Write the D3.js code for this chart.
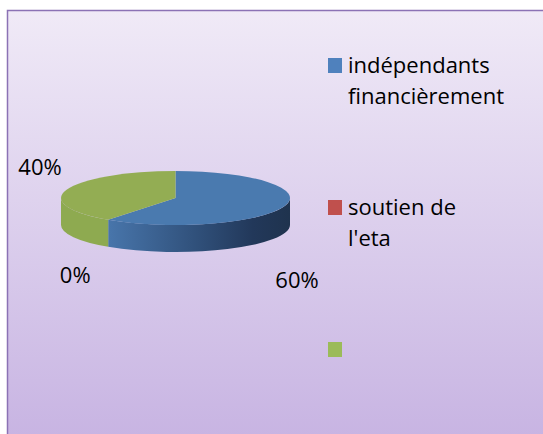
<!doctype html>
<html lang="fr">
<head>
<meta charset="utf-8">
<title>Pie 3D</title>
<script src="https://cdn.jsdelivr.net/npm/d3@7"></script>
<style>
  html, body { margin: 0; padding: 0; background: #fff; }
  svg { display: block; }
  text { font-family: "Open Sans", "Noto Sans", sans-serif; fill: #000; }
</style>
</head>
<body>
<svg id="chart" width="543" height="434"></svg>
<script>
// data
const categories = ["indépendants financièrement", "soutien de l'eta", ""];
const values = [60, 0, 40];
const legendLines = [["indépendants", "financièrement"], ["soutien de", "l'eta"], [""]];
const topColors = ["#4a7aaf", "#c0504d", "#93ad53"];
const keyColors = ["#4f81bd", "#c0504d", "#9bbb59"];

const W = 543, H = 434;
const svg = d3.select("#chart");
const defs = svg.append("defs");

// background panel
const bg = defs.append("linearGradient").attr("id", "bg")
  .attr("x1", 0).attr("y1", 0).attr("x2", 0).attr("y2", 1);
bg.append("stop").attr("offset", "0%").attr("stop-color", "#f0eaf7");
bg.append("stop").attr("offset", "100%").attr("stop-color", "#c7b3e2");

svg.append("rect")
  .attr("x", 7.5).attr("y", 10.5)
  .attr("width", W).attr("height", H)
  .attr("fill", "url(#bg)")
  .attr("stroke", "#8b72b5").attr("stroke-width", 1.5);

// pie geometry
const cx = 175.5, cy = 198, rx = 114.5, ry = 27, depth = 27;
const k = ry / rx;

const pie = d3.pie().sort(null).value(d => d);
const arcs = pie(values);

// gradient coords are in the group's own (translated) space
const sideGrad = defs.append("linearGradient").attr("id", "side0")
  .attr("gradientUnits", "userSpaceOnUse")
  .attr("x1", -rx * 0.62).attr("y1", 0).attr("x2", rx).attr("y2", 0);
sideGrad.append("stop").attr("offset", "0%").attr("stop-color", "#4977ad");
sideGrad.append("stop").attr("offset", "50%").attr("stop-color", "#30507a");
sideGrad.append("stop").attr("offset", "80%").attr("stop-color", "#22385a");
sideGrad.append("stop").attr("offset", "100%").attr("stop-color", "#1f334e");

const sideColors = ["url(#side0)", "#8e3b39", "#8eaa50"];

// scaled group: circle of radius rx squashed into an ellipse
const g = svg.append("g")
  .attr("transform", `translate(${cx},${cy}) scale(1,${k})`);

const dScaled = depth / k;

// front side walls (only the part facing the viewer: pie angles PI/2..3PI/2)
arcs.forEach((a, i) => {
  const s = Math.max(a.startAngle, Math.PI / 2);
  const e = Math.min(a.endAngle, Math.PI * 1.5);
  if (e <= s) return;
  const p = d3.path();
  const s0 = s - Math.PI / 2, e0 = e - Math.PI / 2;
  p.moveTo(rx * Math.cos(s0), rx * Math.sin(s0));
  p.arc(0, 0, rx, s0, e0);
  p.lineTo(rx * Math.cos(e0), rx * Math.sin(e0) + dScaled);
  p.arc(0, dScaled, rx, e0, s0, true);
  p.closePath();
  g.append("path").attr("d", p.toString()).attr("fill", sideColors[i]);
});

// top faces
const arcGen = d3.arc().innerRadius(0).outerRadius(rx);
g.selectAll("path.top")
  .data(arcs)
  .join("path")
  .attr("class", "top")
  .attr("d", arcGen)
  .attr("fill", (d, i) => topColors[i]);

// data labels (placed outside the slice, nudged like the original)
const nudges = [[1.116, 90], [1.49, 85], [1.244, -23]];
svg.selectAll("text.lbl")
  .data(arcs)
  .join("text")
  .attr("class", "lbl")
  .attr("x", (d, i) => {
    const m = (d.startAngle + d.endAngle) / 2;
    return cx + rx * nudges[i][0] * Math.sin(m);
  })
  .attr("y", (d, i) => cy + nudges[i][1])
  .attr("text-anchor", "middle")
  .attr("font-size", 22)
  .text(d => d.data + "%");

// legend
const legend = svg.append("g").attr("transform", "translate(328,58)");
const rowY = d3.scalePoint().domain(d3.range(categories.length)).range([0, 284]);
const item = legend.selectAll("g.item")
  .data(categories)
  .join("g")
  .attr("class", "item")
  .attr("transform", (d, i) => `translate(0,${rowY(i)})`);
item.append("rect")
  .attr("width", 14).attr("height", 15)
  .attr("fill", (d, i) => keyColors[i]);
item.each(function(d, i) {
  const t = d3.select(this).append("text")
    .attr("x", 20).attr("y", 15)
    .attr("font-size", 22);
  legendLines[i].forEach((line, j) => {
    t.append("tspan").attr("x", 20).attr("dy", j === 0 ? 0 : 31).text(line);
  });
});
</script>
</body>
</html>
